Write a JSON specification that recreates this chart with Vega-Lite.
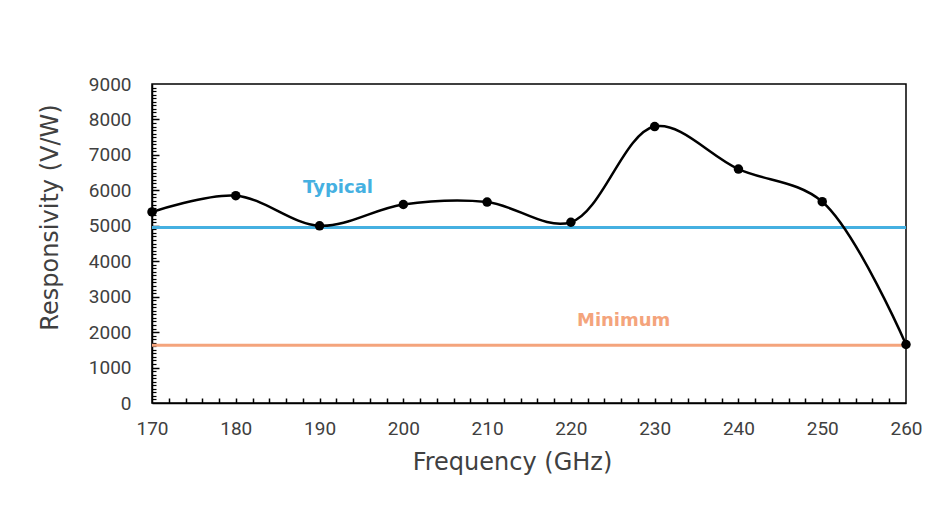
{
  "$schema": "https://vega.github.io/schema/vega-lite/v6.json",
  "autosize": "none",
  "width": 754,
  "height": 319,
  "padding": {"left": 152, "top": 84, "right": 37, "bottom": 103},
  "background": "white",
  "config": {
    "view": {"stroke": "#000000", "strokeWidth": 1.5},
    "axis": {"grid": false, "labelFont": "Roboto", "titleFont": "DejaVu Sans", "labelColor": "#404040", "titleColor": "#404040", "titleFontWeight": "normal", "labelFlush": false, "labelOverlap": false}
  },
  "datasets": {
    "resp": [
      {"freq": 170, "resp": 5390},
      {"freq": 180, "resp": 5850},
      {"freq": 190, "resp": 5000},
      {"freq": 200, "resp": 5600},
      {"freq": 210, "resp": 5670},
      {"freq": 220, "resp": 5100},
      {"freq": 230, "resp": 7800},
      {"freq": 240, "resp": 6600},
      {"freq": 250, "resp": 5680},
      {"freq": 260, "resp": 1650}
    ],
    "refs": [
      {"name": "Typical", "value": 4950, "lx": 192.2, "ly": 6070},
      {"name": "Minimum", "value": 1630, "lx": 226.3, "ly": 2310}
    ]
  },
  "resolve": {"axis": {"x": "independent", "y": "independent"}},
  "layer": [
    {
      "data": {"name": "resp"},
      "mark": {"type": "point", "opacity": 0},
      "encoding": {
        "x": {"field": "freq", "type": "quantitative", "scale": {"domain": [170, 260], "nice": false, "zero": false},
          "axis": {"orient": "bottom", "values": [172,174,176,178,180,182,184,186,188,190,192,194,196,198,200,202,204,206,208,210,212,214,216,218,220,222,224,226,228,230,232,234,236,238,240,242,244,246,248,250,252,254,256,258], "labels": false, "domain": false, "title": null, "tickSize": -5, "tickColor": "#000000", "tickWidth": 1.5}},
        "y": {"field": "resp", "type": "quantitative", "scale": {"domain": [0, 9000], "nice": false},
          "axis": {"orient": "left", "values": [100,200,300,400,500,600,700,800,900,1100,1200,1300,1400,1500,1600,1700,1800,1900,2100,2200,2300,2400,2500,2600,2700,2800,2900,3100,3200,3300,3400,3500,3600,3700,3800,3900,4100,4200,4300,4400,4500,4600,4700,4800,4900,5100,5200,5300,5400,5500,5600,5700,5800,5900,6100,6200,6300,6400,6500,6600,6700,6800,6900,7100,7200,7300,7400,7500,7600,7700,7800,7900,8100,8200,8300,8400,8500,8600,8700,8800,8900], "labels": false, "domain": false, "title": null, "tickSize": -4, "tickColor": "#000000", "tickWidth": 1.2}}
      }
    },
    {
      "data": {"name": "resp"},
      "mark": {"type": "point", "opacity": 0},
      "encoding": {
        "x": {"field": "freq", "type": "quantitative", "axis": null},
        "y": {"field": "resp", "type": "quantitative",
          "axis": {"orient": "left", "values": [1000,2000,3000,4000,5000,6000,7000,8000], "labels": false, "domain": false, "title": null, "tickSize": -7, "tickColor": "#000000", "tickWidth": 1.5}}
      }
    },
    {
      "data": {"name": "refs"},
      "mark": {"type": "rule", "strokeWidth": 3},
      "encoding": {
        "y": {"field": "value", "type": "quantitative", "axis": null},
        "color": {"field": "name", "type": "nominal", "scale": {"domain": ["Typical", "Minimum"], "range": ["#45B0E1", "#F4A47C"]}, "legend": null}
      }
    },
    {
      "data": {"name": "resp"},
      "mark": {"type": "line", "interpolate": "catmull-rom", "color": "#000000", "strokeWidth": 2.5},
      "encoding": {
        "x": {"field": "freq", "type": "quantitative",
          "axis": {"orient": "bottom", "values": [170,180,190,200,210,220,230,240,250,260], "format": "d", "ticks": false, "tickSize": 0, "labelPadding": 16, "labelFontSize": 19, "domainColor": "#000000", "domainWidth": 1.5, "title": "Frequency (GHz)", "titleFontSize": 24, "titlePadding": 12, "titleX": 360}},
        "y": {"field": "resp", "type": "quantitative",
          "axis": {"orient": "left", "values": [0,1000,2000,3000,4000,5000,6000,7000,8000,9000], "format": "d", "ticks": false, "tickSize": 0, "labelPadding": 21, "labelFontSize": 19, "domainColor": "#000000", "domainWidth": 1.5, "title": "Responsivity (V/W)", "titleFontSize": 24, "titlePadding": 26, "titleY": 133}}
      }
    },
    {
      "data": {"name": "resp"},
      "mark": {"type": "point", "filled": true, "color": "#000000", "opacity": 1, "size": 90},
      "encoding": {
        "x": {"field": "freq", "type": "quantitative", "axis": null},
        "y": {"field": "resp", "type": "quantitative", "axis": null}
      }
    },
    {
      "data": {"name": "refs"},
      "mark": {"type": "text", "font": "DejaVu Sans", "fontWeight": "bold", "fontSize": 18, "align": "center", "baseline": "middle"},
      "encoding": {
        "x": {"field": "lx", "type": "quantitative", "axis": null},
        "y": {"field": "ly", "type": "quantitative", "axis": null},
        "text": {"field": "name"},
        "color": {"field": "name", "type": "nominal", "legend": null}
      }
    }
  ]
}
